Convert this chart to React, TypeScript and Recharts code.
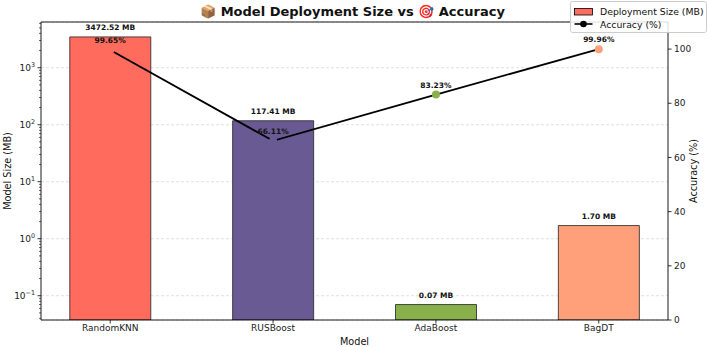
import React from 'react';
import {
  ComposedChart,
  Bar,
  Line,
  XAxis,
  YAxis,
  CartesianGrid,
  Cell,
  LabelList,
  ReferenceLine,
} from 'recharts';

const FONT = '"DejaVu Sans", Verdana, sans-serif';

// Models and their measured values
const models = ['RandomKNN', 'RUSBoost', 'AdaBoost', 'BagDT'];
const sizesMB = [3472.52, 117.41, 0.07, 1.7];
const accuracyPct = [99.65, 66.11, 83.23, 99.96];
const modelColors = ['#FF6B5C', '#6A5A94', '#88B04B', '#FFA07A'];

// Axis ticks and ranges
const decadeTicks = [0.1, 1, 10, 100, 1000];
const accuracyTicks = [0, 20, 40, 60, 80, 100];
const sizeDomain: [number, number] = [0.0375, 6340];
const accuracyDomain: [number, number] = [0, 110];
const categoryTicks = models.map((_, i) => i);

// Minor log ticks (2..9 x 10^k) inside the size range
const minorTicks: number[] = [];
for (let e = -2; e <= 3; e++) {
  for (let m = 2; m <= 9; m++) {
    const v = m * Math.pow(10, e);
    if (v > sizeDomain[0] && v < sizeDomain[1]) minorTicks.push(v);
  }
}
const sizeTicks = [...decadeTicks, ...minorTicks].sort((a, b) => a - b);

const data = models.map((model, i) => ({
  idx: i,
  model,
  size: sizesMB[i],
  accuracy: accuracyPct[i],
}));

const LogTick = (props: any) => {
  const { x, y, payload } = props;
  const v = payload.value as number;
  const lg = Math.log10(v);
  const exp = Math.round(lg);
  const major = Math.abs(lg - exp) < 1e-6;
  const expText = exp < 0 ? `\u2212${-exp}` : `${exp}`;
  return (
    <g>
      <line
        x1={x}
        x2={x - (major ? 3.5 : 2)}
        y1={y}
        y2={y}
        stroke="#000"
        strokeWidth={major ? 0.8 : 0.6}
      />
      {major && (
        <text
          x={x - 6}
          y={y + 3.2}
          textAnchor="end"
          fontSize={9}
          fontFamily={FONT}
          fill="#222"
        >
          10
          <tspan dy={-4.2} fontSize={6.4}>
            {expText}
          </tspan>
        </text>
      )}
    </g>
  );
};

const AccuracyDot = (props: any) => {
  const { cx, cy, index } = props;
  return <circle cx={cx} cy={cy} r={4} fill={modelColors[index]} stroke="none" />;
};

const leftLabel = (props: any) => {
  const vb = props.viewBox;
  const cx = vb.x + 7;
  const cy = vb.y + vb.height / 2;
  return (
    <text
      x={cx}
      y={cy}
      transform={`rotate(-90 ${cx} ${cy})`}
      textAnchor="middle"
      dominantBaseline="central"
      fontSize={9.7}
      fontFamily={FONT}
      fill="#111"
    >
      Model Size (MB)
    </text>
  );
};

const rightLabel = (props: any) => {
  const vb = props.viewBox;
  const cx = vb.x + 25;
  const cy = vb.y + vb.height / 2;
  return (
    <text
      x={cx}
      y={cy}
      transform={`rotate(-90 ${cx} ${cy})`}
      textAnchor="middle"
      dominantBaseline="central"
      fontSize={9.7}
      fontFamily={FONT}
      fill="#111"
    >
      Accuracy (%)
    </text>
  );
};

const bottomLabel = (props: any) => {
  const vb = props.viewBox;
  return (
    <text
      x={vb.x + vb.width / 2}
      y={vb.y + 21}
      textAnchor="middle"
      dominantBaseline="central"
      fontSize={9.7}
      fontFamily={FONT}
      fill="#111"
    >
      Model
    </text>
  );
};

const Legendbox = () => (
  <svg width={137} height={32} style={{ display: 'block' }}>
    <rect x={0.5} y={0.5} width={136} height={31} rx={2} fill="#fff" fillOpacity={0.85} stroke="#cccccc" />
    <rect x={4.5} y={7.5} width={18} height={6.5} fill={modelColors[0]} stroke="#000" strokeWidth={0.8} />
    <text x={30} y={10.8} dominantBaseline="central" fontSize={9.3} fontFamily={FONT} fill="#111">
      Deployment Size (MB)
    </text>
    <line x1={4.5} x2={22.5} y1={23} y2={23} stroke="#000" strokeWidth={1.6} />
    <circle cx={13.5} cy={23} r={3.3} fill="#000" />
    <text x={30} y={23} dominantBaseline="central" fontSize={9.3} fontFamily={FONT} fill="#111">
      Accuracy (%)
    </text>
  </svg>
);

export default function App() {
  return (
    <div style={{ position: 'absolute', left: 0, top: 0, width: 708, height: 347, background: '#fff' }}>
      <div
        style={{
          position: 'absolute',
          left: 0,
          top: 4,
          width: 705,
          textAlign: 'center',
          fontFamily: FONT,
          fontWeight: 'bold',
          fontSize: 13,
          lineHeight: '16px',
          color: '#111',
          zIndex: 2,
        }}
      >
        📦 Model Deployment Size vs 🎯 Accuracy
      </div>
      <ComposedChart
        width={708}
        height={347}
        data={data}
        margin={{ top: 22, right: 0, bottom: 0, left: 0 }}
      >
        <CartesianGrid
          yAxisId="grid"
          vertical={false}
          stroke="#d4d4d4"
          strokeDasharray="3 2"
          strokeWidth={0.7}
        />
        <XAxis
          dataKey="idx"
          type="number"
          domain={[-0.425, 3.425]}
          ticks={categoryTicks}
          interval={0}
          allowDataOverflow
          tickFormatter={(i: number) => models[i]}
          height={27}
          tick={{ fontSize: 9, fill: '#222', fontFamily: FONT }}
          tickSize={3.5}
          tickMargin={1}
          axisLine={{ stroke: '#000', strokeWidth: 0.9 }}
          tickLine={{ stroke: '#000', strokeWidth: 0.8 }}
          label={bottomLabel}
        />
        <YAxis
          yAxisId="size"
          scale="log"
          type="number"
          domain={sizeDomain}
          allowDataOverflow
          ticks={sizeTicks}
          interval={0}
          width={41}
          tick={<LogTick />}
          tickLine={false}
          tickSize={0}
          tickMargin={0}
          axisLine={{ stroke: '#000', strokeWidth: 0.9 }}
          label={leftLabel}
        />
        <YAxis
          yAxisId="grid"
          scale="log"
          type="number"
          domain={sizeDomain}
          allowDataOverflow
          ticks={decadeTicks}
          interval={0}
          width={0}
          hide
        />
        <YAxis
          yAxisId="acc"
          orientation="right"
          type="number"
          domain={accuracyDomain}
          allowDataOverflow
          ticks={accuracyTicks}
          interval={0}
          width={40}
          tick={{ fontSize: 9, fill: '#222', fontFamily: FONT }}
          tickSize={3.5}
          tickMargin={2.5}
          axisLine={{ stroke: '#000', strokeWidth: 0.9 }}
          tickLine={{ stroke: '#000', strokeWidth: 0.8 }}
          label={rightLabel}
        />
        <ReferenceLine yAxisId="acc" y={accuracyDomain[1]} stroke="#000" strokeWidth={0.9} />
        <Bar
          yAxisId="size"
          dataKey="size"
          barSize={81}
          stroke="#222"
          strokeWidth={0.8}
          isAnimationActive={false}
        >
          {data.map((d, i) => (
            <Cell key={d.model} fill={modelColors[i]} />
          ))}
          <LabelList
            dataKey="size"
            position="top"
            offset={7}
            formatter={(v: any) => `${Number(v).toFixed(2)} MB`}
            fontSize={7.5}
            fontWeight="bold"
            fontFamily={FONT}
            fill="#111"
          />
        </Bar>
        <Line
          yAxisId="acc"
          dataKey="accuracy"
          stroke="#000"
          strokeWidth={1.8}
          dot={(p: any) => <AccuracyDot key={`dot-${p.index}`} {...p} />}
          activeDot={false}
          isAnimationActive={false}
        >
          <LabelList
            dataKey="accuracy"
            position="top"
            offset={7}
            formatter={(v: any) => `${Number(v).toFixed(2)}%`}
            fontSize={7.5}
            fontWeight="bold"
            fontFamily={FONT}
            fill="#111"
          />
        </Line>
      </ComposedChart>
      <div style={{ position: 'absolute', left: 570, top: 1, zIndex: 3 }}>
        <Legendbox />
      </div>
    </div>
  );
}
